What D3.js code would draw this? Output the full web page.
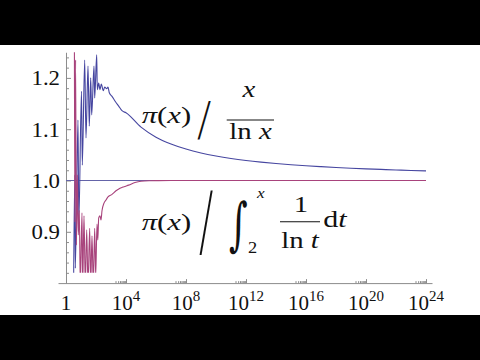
<!DOCTYPE html>
<html><head><meta charset="utf-8">
<script src="https://cdn.jsdelivr.net/npm/d3@7"></script>
<style>html,body{margin:0;padding:0;background:#000;} svg{display:block;}</style>
</head><body>
<script>
// ---- data (exponent = log10 x) ----
const blueExp = [0.50,0.587,0.62,0.80,0.853,1.033,1.087,1.247,1.333,1.467,1.553,1.647,1.713,1.867,1.913,2.047,2.087,2.18,2.267,2.353,2.487,2.58,2.713,2.8,2.887,3.067,3.287,3.513,3.733,4,5,6,7,8,9,10,11,12,13,14,15,16,17,18,19,20,21,22,23,24];
const blueVal = [0.767,1.011,0.829,1.118,0.919,1.174,1.030,1.235,1.083,1.223,1.106,1.200,1.128,1.223,1.161,1.245,1.177,1.190,1.177,1.188,1.175,1.182,1.179,1.182,1.171,1.164,1.154,1.145,1.136,1.132,1.104,1.0845,1.0712,1.0613,1.0537,1.0478,1.0430,1.0391,1.0359,1.0332,1.0308,1.0288,1.0270,1.0254,1.0240,1.0227,1.0216,1.0206,1.0196,1.0188];
const redExp = [0.56,0.593,0.64,0.693,0.76,0.82,0.887,0.953,1.067,1.113,1.2,1.287,1.38,1.467,1.58,1.647,1.733,1.82,1.913,1.98,2.067,2.12,2.18,2.267,2.333,2.4,2.533,2.667,2.8,3.067,3.333,3.6,3.867,4.18,4.6,5,5.6,6,7,8,24];
const redVal = [1.274,0.919,1.235,0.874,1.011,0.894,0.942,0.796,0.937,0.796,0.931,0.796,0.904,0.796,0.907,0.796,0.892,0.796,0.907,0.814,0.915,0.884,0.927,0.931,0.923,0.941,0.956,0.962,0.968,0.973,0.980,0.985,0.988,0.991,0.996,0.9986,0.9996,0.9998,0.9999,1.0,1.0];
const unityExp = [0, 24];
const unityVal = [1, 1];
const yTicks = [0.9, 1.0, 1.1, 1.2];
const yTickLabels = ["0.9", "1.0", "1.1", "1.2"];
const yMinor = [0.82,0.84,0.86,0.88,0.92,0.94,0.96,0.98,1.02,1.04,1.06,1.08,1.12,1.14,1.16,1.18,1.22,1.24];
const xTickExp = [0, 4, 8, 12, 16, 20, 24];
const xTickLabels = [["1",""],["10","4"],["10","8"],["10","12"],["10","16"],["10","20"],["10","24"]];

const W = 480, H = 360;
const svg = d3.select("body").append("svg").attr("width", W).attr("height", H);
svg.append("rect").attr("width", W).attr("height", H).attr("fill", "#000");
svg.append("rect").attr("x", 0).attr("y", 45).attr("width", W).attr("height", 270).attr("fill", "#fff");

const x = d3.scaleLog().domain([Math.pow(10, -0.533), Math.pow(10, 24.4)]).range([58, 432]);
const y = d3.scaleLinear().domain([0.8, 1.25]).range([283.1, 52.25]);
const axisCol = "#8c8c8c";
const lib = "Liberation Serif";
const dvs = "DejaVu Serif";

// clip
svg.append("clipPath").attr("id", "clip").append("rect")
  .attr("x", 58).attr("y", y(1.25)).attr("width", 380).attr("height", y(0.82) - y(1.25));

// y axis
const yAx = svg.append("g").attr("transform", `translate(${x(1)},0)`)
  .call(d3.axisLeft(y).tickValues(yTicks).tickSize(-5).tickSizeOuter(0).tickFormat(""));
yAx.select(".domain").attr("stroke", axisCol);
yAx.selectAll(".tick line").attr("stroke", axisCol);
const yAxm = svg.append("g").attr("transform", `translate(${x(1)},0)`)
  .call(d3.axisLeft(y).tickValues(yMinor).tickSize(-3).tickSizeOuter(0).tickFormat(""));
yAxm.select(".domain").remove();
yAxm.selectAll(".tick line").attr("stroke", axisCol);

// x axis
const xAx = svg.append("g").attr("transform", `translate(0,${y(0.8)})`)
  .call(d3.axisBottom(x).tickValues(xTickExp.map(e => Math.pow(10, e))).tickSize(-4).tickSizeOuter(0).tickFormat(""));
xAx.select(".domain").attr("stroke", axisCol);
xAx.selectAll(".tick line").attr("stroke", axisCol);
const xMinor = [];
xTickExp.filter(e => e > 0).forEach(e => { for (let m = 2; m <= 9; m++) xMinor.push(m * Math.pow(10, e - 1)); });
const xAxm = svg.append("g").attr("transform", `translate(0,${y(0.8)})`)
  .call(d3.axisBottom(x).tickValues(xMinor).tickSize(-2).tickSizeOuter(0).tickFormat(""));
xAxm.select(".domain").remove();
xAxm.selectAll(".tick line").attr("stroke", axisCol);

// tick labels
svg.append("g").selectAll("text").data(yTicks).join("text")
  .attr("transform", d => `translate(60,${y(d) + 7.5}) scale(1.14,1)`)
  .attr("text-anchor", "end").attr("font-family", lib).attr("font-size", 20).attr("fill", "#111")
  .text((d, i) => yTickLabels[i]);
const xl = svg.append("g").selectAll("text").data(xTickExp).join("text")
  .attr("x", d => x(Math.pow(10, d))).attr("y", 310)
  .attr("text-anchor", "middle").attr("font-family", lib).attr("font-size", 21).attr("fill", "#111");
xl.append("tspan").text((d, i) => xTickLabels[i][0]);
xl.append("tspan").attr("dy", -9).attr("font-size", 15).text((d, i) => xTickLabels[i][1]);

// lines
const line = d3.line().x(d => x(Math.pow(10, d[0]))).y(d => y(d[1])).curve(d3.curveMonotoneX);
const plot = svg.append("g").attr("clip-path", "url(#clip)");
plot.append("path").datum(unityExp.map((e, i) => [e, unityVal[i]]))
  .attr("d", line).attr("fill", "none").attr("stroke", "#6464a8").attr("stroke-width", 1.1);
plot.append("path").datum(blueExp.map((e, i) => [e, blueVal[i]]))
  .attr("d", line).attr("fill", "none").attr("stroke", "#4646a0").attr("stroke-width", 1.1);
plot.append("path").datum(redExp.map((e, i) => [e, redVal[i]]))
  .attr("d", line).attr("fill", "none").attr("stroke", "#a8437c").attr("stroke-width", 1.1);

// math labels
function txt(px, py, size, parts, opts = {}) {
  const t = svg.append("text")
    .attr("transform", `translate(${px},${py}) scale(${opts.sx || 1},${opts.sy || 1})`)
    .attr("font-family", opts.family || lib).attr("font-size", size).attr("fill", "#111")
    .attr("font-weight", opts.weight || 400)
    .attr("text-anchor", opts.anchor || "start");
  parts.forEach(p => t.append("tspan").attr("font-style", p[1] ? "italic" : "normal").text(p[0]));
  return t;
}
function rule(x1, x2, yy) {
  svg.append("line").attr("x1", x1).attr("x2", x2).attr("y1", yy).attr("y2", yy)
    .attr("stroke", "#111").attr("stroke-width", 1.1);
}
// label 1
txt(141.7, 123, 24, [["π", true], ["(", false], ["x", true], [")", false]], {sx: 1.28});
txt(197, 137, 50, [["/", false]], {sx: 0.75, family: "Roboto", weight: 300});
txt(249, 97, 24, [["x", true]], {anchor: "middle", sx: 1.2});
rule(226.7, 274, 120);
txt(250.5, 139, 24, [["ln ", false], ["x", true]], {anchor: "middle", sx: 1.2});
// label 2
txt(141.7, 230, 24, [["π", true], ["(", false], ["x", true], [")", false]], {sx: 1.28});
txt(199, 250, 50, [["/", false]], {sx: 0.75, sy: 1.65, family: "Roboto", weight: 300});
txt(229, 244, 36, [["∫", false]], {sx: 1.0, sy: 1.6, family: dvs});
txt(257, 198, 15, [["x", true]], {sx: 1.15});
txt(248, 253, 16, [["2", false]], {sx: 1.15});
txt(301, 211.7, 24, [["1", false]], {anchor: "middle", sx: 1.2});
rule(280, 320, 221.7);
txt(300, 248, 24, [["ln ", false], ["t", true]], {anchor: "middle", sx: 1.2});
txt(323.3, 227.3, 24, [["d", false], ["t", true]], {sx: 1.25});
</script>
</body></html>
